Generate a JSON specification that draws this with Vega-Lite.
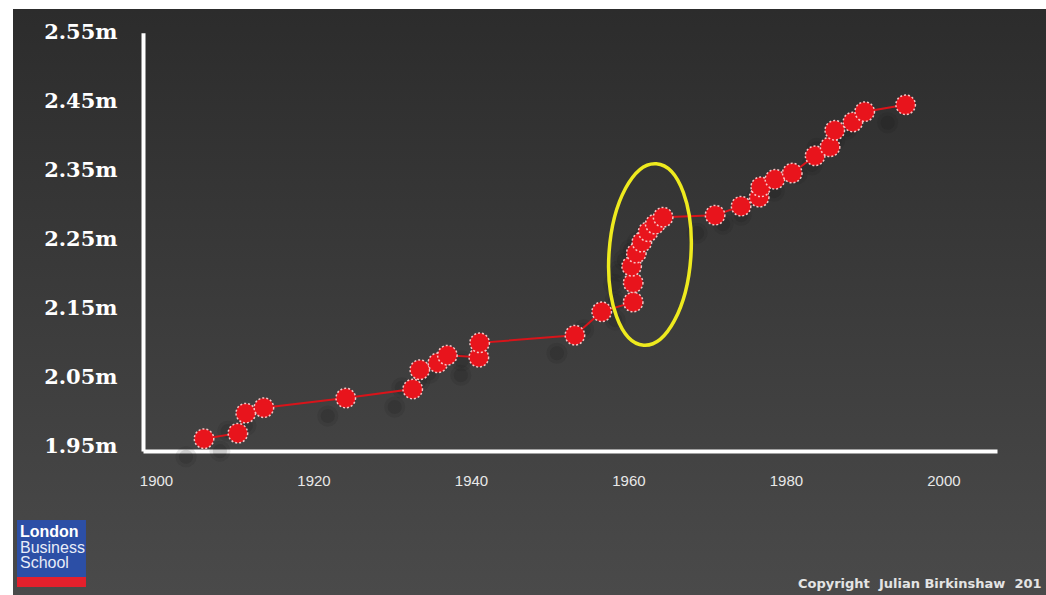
{
  "$schema": "https://vega.github.io/schema/vega-lite/v6.json",
  "width": 1033,
  "height": 586,
  "autosize": {"type": "none"},
  "padding": {"left": 13, "top": 9, "right": 0, "bottom": 0},
  "background": "#ffffff",
  "config": {
    "view": {"stroke": null, "fill": {"gradient": "linear", "x1": 0, "y1": 0, "x2": 0, "y2": 1, "stops": [{"offset": 0, "color": "#2c2c2c"}, {"offset": 1, "color": "#4a4a4a"}]}},
    "axisX": {"zindex": 1, "format": "d", "domainColor": "#ffffff", "domainWidth": 4, "ticks": false, "tickSize": 0, "grid": false, "labelColor": "#e8e8e8", "labelFont": "Liberation Sans", "labelFontSize": 15, "labelPadding": 22, "labelFlush": false, "labelOverlap": false},
    "axisY": {"zindex": 1, "labelExpr": "format(datum.value, '.2f') + 'm'", "domainColor": "#ffffff", "domainWidth": 4, "ticks": false, "tickSize": 0, "grid": false, "labelColor": "#ffffff", "labelFont": "DejaVu Serif", "labelFontWeight": "bold", "labelFontSize": 21, "labelPadding": 26, "labelFlush": false, "labelOverlap": false}
  },
  "datasets": {
    "records": [
      {"year": 1906.1, "height": 1.962},
      {"year": 1910.4, "height": 1.970},
      {"year": 1911.4, "height": 1.999},
      {"year": 1913.7, "height": 2.007},
      {"year": 1924.1, "height": 2.021},
      {"year": 1932.6, "height": 2.034},
      {"year": 1933.5, "height": 2.062},
      {"year": 1935.8, "height": 2.072},
      {"year": 1937.0, "height": 2.083},
      {"year": 1941.0, "height": 2.080},
      {"year": 1941.1, "height": 2.101},
      {"year": 1953.2, "height": 2.112},
      {"year": 1956.6, "height": 2.146},
      {"year": 1960.6, "height": 2.160},
      {"year": 1960.6, "height": 2.188},
      {"year": 1960.4, "height": 2.212},
      {"year": 1961.0, "height": 2.231},
      {"year": 1961.7, "height": 2.247},
      {"year": 1962.5, "height": 2.262},
      {"year": 1963.4, "height": 2.273},
      {"year": 1964.4, "height": 2.283},
      {"year": 1971.0, "height": 2.286},
      {"year": 1974.3, "height": 2.299},
      {"year": 1976.6, "height": 2.312},
      {"year": 1976.8, "height": 2.327},
      {"year": 1978.6, "height": 2.338},
      {"year": 1980.8, "height": 2.347},
      {"year": 1983.7, "height": 2.372},
      {"year": 1985.6, "height": 2.385},
      {"year": 1986.2, "height": 2.409},
      {"year": 1988.5, "height": 2.421},
      {"year": 1990.0, "height": 2.436},
      {"year": 1995.2, "height": 2.446}
    ]
  },
  "layer": [
    {
      "data": {"values": [{}]},
      "mark": {"type": "rect", "fill": "#2c4fa6"},
      "encoding": {
        "x": {"datum": 1882.35, "type": "quantitative", "scale": {"domain": [1898.35, 2006.8], "range": [130, 984], "nice": false, "zero": false}, "axis": {"values": [1900, 1920, 1940, 1960, 1980, 2000], "title": null, "offset": -144}},
        "x2": {"datum": 1891.11},
        "y": {"datum": 1.8442, "type": "quantitative", "scale": {"domain": [1.9442, 2.5505], "range": [442, 23.65], "nice": false, "zero": false}, "axis": {"values": [1.95, 2.05, 2.15, 2.25, 2.35, 2.45, 2.55], "title": null, "offset": -130}},
        "y2": {"datum": 1.7616}
      }
    },
    {
      "data": {"values": [{}]},
      "mark": {"type": "rect", "fill": "#e4202c"},
      "encoding": {
        "x": {"datum": 1882.35, "type": "quantitative", "scale": {"domain": [1898.35, 2006.8], "range": [130, 984], "nice": false, "zero": false}, "axis": {"values": [1900, 1920, 1940, 1960, 1980, 2000], "title": null, "offset": -144}},
        "x2": {"datum": 1891.11},
        "y": {"datum": 1.7616, "type": "quantitative", "scale": {"domain": [1.9442, 2.5505], "range": [442, 23.65], "nice": false, "zero": false}, "axis": {"values": [1.95, 2.05, 2.15, 2.25, 2.35, 2.45, 2.55], "title": null, "offset": -130}},
        "y2": {"datum": 1.7471}
      }
    },
    {
      "data": {"values": [{}]},
      "mark": {"type": "text", "align": "left", "baseline": "middle", "font": "Liberation Sans", "fontSize": 16, "fontWeight": "bold", "color": "#ffffff"},
      "encoding": {
        "x": {"datum": 1882.73, "type": "quantitative", "scale": {"domain": [1898.35, 2006.8], "range": [130, 984], "nice": false, "zero": false}, "axis": {"values": [1900, 1920, 1940, 1960, 1980, 2000], "title": null, "offset": -144}},
        "y": {"datum": 1.8268, "type": "quantitative", "scale": {"domain": [1.9442, 2.5505], "range": [442, 23.65], "nice": false, "zero": false}, "axis": {"values": [1.95, 2.05, 2.15, 2.25, 2.35, 2.45, 2.55], "title": null, "offset": -130}},
        "text": {"value": "London"}
      }
    },
    {
      "data": {"values": [{}]},
      "mark": {"type": "text", "align": "left", "baseline": "middle", "font": "Liberation Sans", "fontSize": 16, "color": "#e8ecf8"},
      "encoding": {
        "x": {"datum": 1882.73, "type": "quantitative", "scale": {"domain": [1898.35, 2006.8], "range": [130, 984], "nice": false, "zero": false}, "axis": {"values": [1900, 1920, 1940, 1960, 1980, 2000], "title": null, "offset": -144}},
        "y": {"datum": 1.8036, "type": "quantitative", "scale": {"domain": [1.9442, 2.5505], "range": [442, 23.65], "nice": false, "zero": false}, "axis": {"values": [1.95, 2.05, 2.15, 2.25, 2.35, 2.45, 2.55], "title": null, "offset": -130}},
        "text": {"value": "Business"}
      }
    },
    {
      "data": {"values": [{}]},
      "mark": {"type": "text", "align": "left", "baseline": "middle", "font": "Liberation Sans", "fontSize": 16, "color": "#e8ecf8"},
      "encoding": {
        "x": {"datum": 1882.73, "type": "quantitative", "scale": {"domain": [1898.35, 2006.8], "range": [130, 984], "nice": false, "zero": false}, "axis": {"values": [1900, 1920, 1940, 1960, 1980, 2000], "title": null, "offset": -144}},
        "y": {"datum": 1.7819, "type": "quantitative", "scale": {"domain": [1.9442, 2.5505], "range": [442, 23.65], "nice": false, "zero": false}, "axis": {"values": [1.95, 2.05, 2.15, 2.25, 2.35, 2.45, 2.55], "title": null, "offset": -130}},
        "text": {"value": "School"}
      }
    },
    {
      "data": {"name": "records"},
      "mark": {"type": "point", "shape": "circle", "filled": true, "fill": "#101010", "size": 440, "opacity": 0.1, "strokeWidth": 0, "xOffset": -18, "yOffset": 18},
      "encoding": {
        "x": {"field": "year", "type": "quantitative", "scale": {"domain": [1898.35, 2006.8], "range": [130, 984], "nice": false, "zero": false}, "axis": {"values": [1900, 1920, 1940, 1960, 1980, 2000], "title": null, "offset": -144}},
        "y": {"field": "height", "type": "quantitative", "scale": {"domain": [1.9442, 2.5505], "range": [442, 23.65], "nice": false, "zero": false}, "axis": {"values": [1.95, 2.05, 2.15, 2.25, 2.35, 2.45, 2.55], "title": null, "offset": -130}}
      }
    },
    {
      "data": {"name": "records"},
      "mark": {"type": "point", "shape": "circle", "filled": true, "fill": "#101010", "size": 200, "opacity": 0.12, "strokeWidth": 0, "xOffset": -18, "yOffset": 18},
      "encoding": {
        "x": {"field": "year", "type": "quantitative", "scale": {"domain": [1898.35, 2006.8], "range": [130, 984], "nice": false, "zero": false}, "axis": {"values": [1900, 1920, 1940, 1960, 1980, 2000], "title": null, "offset": -144}},
        "y": {"field": "height", "type": "quantitative", "scale": {"domain": [1.9442, 2.5505], "range": [442, 23.65], "nice": false, "zero": false}, "axis": {"values": [1.95, 2.05, 2.15, 2.25, 2.35, 2.45, 2.55], "title": null, "offset": -130}}
      }
    },
    {
      "data": {"name": "records"},
      "mark": {"type": "line", "color": "#d8141a", "strokeWidth": 2},
      "encoding": {
        "x": {"field": "year", "type": "quantitative", "scale": {"domain": [1898.35, 2006.8], "range": [130, 984], "nice": false, "zero": false}, "axis": {"values": [1900, 1920, 1940, 1960, 1980, 2000], "title": null, "offset": -144}},
        "y": {"field": "height", "type": "quantitative", "scale": {"domain": [1.9442, 2.5505], "range": [442, 23.65], "nice": false, "zero": false}, "axis": {"values": [1.95, 2.05, 2.15, 2.25, 2.35, 2.45, 2.55], "title": null, "offset": -130}},
        "order": {"value": null}
      }
    },
    {
      "data": {"name": "records"},
      "mark": {"type": "point", "shape": "circle", "filled": true, "fill": "#e8141c", "fillOpacity": 1, "size": 380, "stroke": "#f6c4c4", "strokeWidth": 1.5, "strokeDash": [2, 2], "opacity": 1},
      "encoding": {
        "x": {"field": "year", "type": "quantitative", "scale": {"domain": [1898.35, 2006.8], "range": [130, 984], "nice": false, "zero": false}, "axis": {"values": [1900, 1920, 1940, 1960, 1980, 2000], "title": null, "offset": -144}},
        "y": {"field": "height", "type": "quantitative", "scale": {"domain": [1.9442, 2.5505], "range": [442, 23.65], "nice": false, "zero": false}, "axis": {"values": [1.95, 2.05, 2.15, 2.25, 2.35, 2.45, 2.55], "title": null, "offset": -130}}
      }
    },
    {
      "data": {"values": [{}]},
      "mark": {"type": "point", "shape": "M 0,-1 C 0.2485,-1 0.45,-0.5523 0.45,0 C 0.45,0.5523 0.2485,1 0,1 C -0.2485,1 -0.45,0.5523 -0.45,0 C -0.45,-0.5523 -0.2485,-1 0,-1 Z", "filled": false, "fill": null, "size": 33124, "stroke": "#eeea1e", "strokeWidth": 3.5, "angle": 4, "opacity": 1},
      "encoding": {
        "x": {"datum": 1962.73, "type": "quantitative", "scale": {"domain": [1898.35, 2006.8], "range": [130, 984], "nice": false, "zero": false}, "axis": {"values": [1900, 1920, 1940, 1960, 1980, 2000], "title": null, "offset": -144}},
        "y": {"datum": 2.229, "type": "quantitative", "scale": {"domain": [1.9442, 2.5505], "range": [442, 23.65], "nice": false, "zero": false}, "axis": {"values": [1.95, 2.05, 2.15, 2.25, 2.35, 2.45, 2.55], "title": null, "offset": -130}}
      }
    },
    {
      "data": {"values": [{}]},
      "mark": {"type": "text", "align": "left", "baseline": "middle", "font": "DejaVu Sans", "fontSize": 13, "fontWeight": "bold", "color": "#e4e4e4"},
      "encoding": {
        "x": {"datum": 1981.52, "type": "quantitative", "scale": {"domain": [1898.35, 2006.8], "range": [130, 984], "nice": false, "zero": false}, "axis": {"values": [1900, 1920, 1940, 1960, 1980, 2000], "title": null, "offset": -144}},
        "y": {"datum": 1.7514, "type": "quantitative", "scale": {"domain": [1.9442, 2.5505], "range": [442, 23.65], "nice": false, "zero": false}, "axis": {"values": [1.95, 2.05, 2.15, 2.25, 2.35, 2.45, 2.55], "title": null, "offset": -130}},
        "text": {"value": "Copyright\u00a0\u00a0Julian Birkinshaw\u00a0\u00a0201"}
      }
    }
  ]
}
